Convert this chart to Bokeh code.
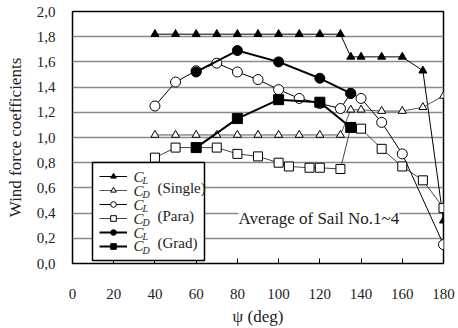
from bokeh.plotting import figure
from bokeh.models import Legend, LegendItem, Label, Range1d, CustomJSTickFormatter, BoxAnnotation
from bokeh.embed import file_html
from bokeh.resources import INLINE

# ---- data ----
psi_cl_single = [40, 50, 60, 70, 80, 90, 100, 110, 120, 130, 135, 140, 150, 160, 170, 180]
cl_single = [1.82, 1.82, 1.82, 1.82, 1.82, 1.82, 1.82, 1.82, 1.82, 1.82, 1.64, 1.64, 1.64, 1.64, 1.53, 0.34]

psi_cd_single = [40, 50, 60, 70, 80, 90, 100, 110, 120, 130, 135, 140, 150, 160, 170, 180]
cd_single = [1.02, 1.02, 1.02, 1.02, 1.02, 1.02, 1.02, 1.02, 1.02, 1.02, 1.22, 1.22, 1.21, 1.21, 1.24, 1.33]

psi_cl_para = [40, 50, 60, 70, 80, 90, 100, 110, 120, 130, 135, 140, 150, 160, 180]
cl_para = [1.25, 1.44, 1.53, 1.59, 1.52, 1.46, 1.38, 1.31, 1.27, 1.23, 1.35, 1.31, 1.12, 0.87, 0.15]

psi_cd_para = [40, 50, 60, 70, 80, 90, 100, 105, 115, 120, 130, 135, 140, 150, 160, 170, 180]
cd_para = [0.84, 0.92, 0.92, 0.92, 0.87, 0.85, 0.80, 0.77, 0.76, 0.76, 0.75, 1.08, 1.07, 0.91, 0.77, 0.66, 0.44]

psi_cl_grad = [60, 80, 100, 120, 135]
cl_grad = [1.52, 1.69, 1.60, 1.47, 1.35]

psi_cd_grad = [60, 80, 100, 120, 135]
cd_grad = [0.92, 1.15, 1.30, 1.28, 1.08]

x_ticks = [0, 20, 40, 60, 80, 100, 120, 140, 160, 180]
y_ticks = [0.0, 0.2, 0.4, 0.6, 0.8, 1.0, 1.2, 1.4, 1.6, 1.8, 2.0]

legend_subs = ["L", "D", "L", "D", "L", "D"]
group_labels = ["(Single)", "(Para)", "(Grad)"]
note_text = "Average of Sail No.1~4"

SERIF = "Liberation Serif"
TXT = "#222222"

p = figure(width=458, height=328, output_backend="svg", toolbar_location=None,
           x_range=Range1d(0, 180), y_range=Range1d(0, 2.0),
           min_border_left=72, min_border_right=15, min_border_top=11, min_border_bottom=65)

p.background_fill_color = "white"
p.border_fill_color = "white"
p.outline_line_color = "black"
p.outline_line_width = 1.5

# axes
p.xaxis.ticker = x_ticks
p.yaxis.ticker = y_ticks
p.yaxis.formatter = CustomJSTickFormatter(code="return tick.toFixed(1).replace('.', ',');")
for ax in (p.xaxis, p.yaxis):
    ax.axis_line_color = None
    ax.minor_tick_line_color = None
    ax.major_label_text_font = SERIF
    ax.major_label_text_font_size = "15px"
    ax.major_label_text_color = TXT
    ax.axis_label_text_font = SERIF
    ax.axis_label_text_font_size = "17px"
    ax.axis_label_text_font_style = "normal"
    ax.axis_label_text_color = TXT
p.xaxis.major_tick_in = 5
p.xaxis.major_tick_out = 0
p.xaxis.major_tick_line_color = "black"
p.xaxis.major_label_standoff = 25
p.xaxis.axis_label = "ψ (deg)"
p.xaxis.axis_label_standoff = 5
p.yaxis.major_tick_line_color = None
p.yaxis.major_tick_in = 0
p.yaxis.major_tick_out = 0
p.yaxis.major_label_standoff = 17
p.yaxis.axis_label = "Wind force coefficients"
p.yaxis.axis_label_standoff = 9

p.xgrid.visible = False
p.ygrid.grid_line_color = "#8a8a8a"
p.ygrid.grid_line_width = 1.3

# legend box (white, hides grid lines behind the legend)
p.add_layout(BoxAnnotation(left=9.70, right=64.04, top=0.802, bottom=0.024,
                           fill_color="white", fill_alpha=1.0,
                           line_color="black", line_width=1.5, line_alpha=1.0))


def series(x, y, marker, fill, lw, size, lcolor="black"):
    rl = p.line(x, y, line_color=lcolor, line_width=lw)
    rs = p.scatter(x, y, marker=marker, size=size, fill_color=fill,
                   line_color="black", line_width=1)
    return [rl, rs]


r1 = series(psi_cl_single, cl_single, "triangle", "black", 1.0, 8)
r2 = series(psi_cd_single, cd_single, "triangle", "white", 1.0, 8, "#555555")
r3 = series(psi_cl_para, cl_para, "circle", "white", 1.0, 10)
r4 = series(psi_cd_para, cd_para, "square", "white", 1.0, 9, "#444444")
r5 = series(psi_cl_grad, cl_grad, "circle", "black", 2.0, 10)
r6 = series(psi_cd_grad, cd_grad, "square", "black", 2.0, 10)

legend = Legend(items=[LegendItem(label=" ", renderers=r) for r in (r1, r2, r3, r4, r5, r6)],
                location=(20, 3), margin=0, padding=7, spacing=0,
                label_height=14, glyph_height=14, glyph_width=28,
                label_standoff=5, label_width=65,
                border_line_alpha=0.0, background_fill_alpha=0.0,
                label_text_font=SERIF, label_text_font_size="8px")
p.add_layout(legend)

row_y = [0.690, 0.579, 0.468, 0.357, 0.246, 0.135]
for s, yy in zip(legend_subs, row_y):
    p.add_layout(Label(x=29.6, y=yy, text="C", text_font=SERIF, text_font_style="italic",
                       text_font_size="15px", text_baseline="middle", text_color=TXT,
                       level="overlay"))
    p.add_layout(Label(x=34.0, y=yy - 0.031, text=s, text_font=SERIF, text_font_style="italic",
                       text_font_size="10px", text_baseline="middle", text_color=TXT,
                       level="overlay"))

group_y = [0.60, 0.38, 0.16]
for t, yy in zip(group_labels, group_y):
    p.add_layout(Label(x=41.2, y=yy, text=t, text_font=SERIF, text_font_size="15px",
                       text_baseline="middle", text_color=TXT, level="overlay"))

p.add_layout(Label(x=80.5, y=0.357, text=note_text, text_font=SERIF, text_font_size="17px",
                   text_baseline="middle", text_color=TXT,
                   background_fill_color="white", background_fill_alpha=1.0))

open("out.html", "w").write(file_html(p, INLINE))
